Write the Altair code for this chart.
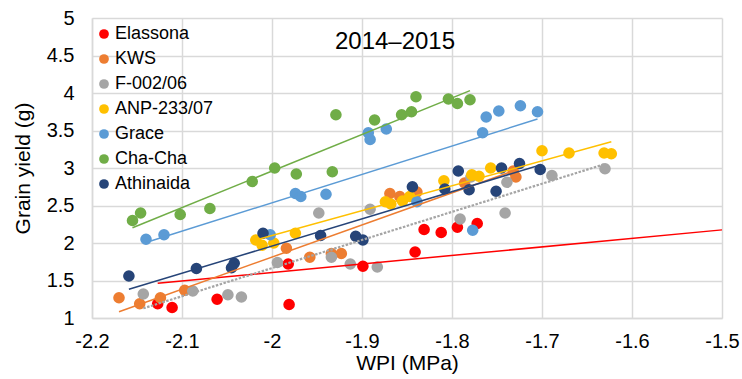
import altair as alt
import pandas as pd

# Leaf water potential index (MPa) vs grain yield (g) per variety, 2014–2015
varieties = ["Elassona", "KWS", "F-002/06", "ANP-233/07", "Grace", "Cha-Cha", "Athinaida"]
colors = ["#FF0000", "#ED7D31", "#A5A5A5", "#FFC000", "#5B9BD5", "#70AD47", "#264478"]

elassona_wpi = [-2.127, -2.111, -2.061, -1.981, -1.982, -1.899, -1.841, -1.831, -1.812, -1.794, -1.772]
elassona_yld = [1.19, 1.14, 1.25, 1.18, 1.72, 1.69, 1.88, 2.18, 2.14, 2.21, 2.26]

kws_wpi = [-2.170, -2.147, -2.124, -2.097, -1.984, -1.958, -1.934, -1.923, -1.869, -1.858, -1.839,
           -1.786, -1.732, -1.729]
kws_yld = [1.27, 1.19, 1.27, 1.37, 1.93, 1.81, 1.86, 1.86, 2.66, 2.62, 2.68, 2.80, 2.96, 2.88]

f002_wpi = [-2.143, -2.088, -2.049, -2.034, -1.994, -1.948, -1.934, -1.913, -1.883, -1.891, -1.791,
            -1.779, -1.739, -1.741, -1.689, -1.630]
f002_yld = [1.32, 1.36, 1.31, 1.28, 1.74, 2.40, 1.81, 1.72, 1.68, 2.45, 2.32, 2.88, 2.81, 2.40,
            2.90, 2.99]

anp_wpi = [-2.018, -2.011, -1.998, -1.974, -1.874, -1.868, -1.855, -1.847, -1.809, -1.778, -1.770,
           -1.757, -1.700, -1.670, -1.631, -1.623]
anp_yld = [2.04, 1.97, 2.00, 2.13, 2.55, 2.52, 2.56, 2.62, 2.83, 2.91, 2.89, 3.00, 3.23, 3.20,
           3.20, 3.19]

grace_wpi = [-2.140, -2.120, -2.002, -1.974, -1.968, -1.940, -1.893, -1.891, -1.873, -1.839, -1.777,
             -1.766, -1.762, -1.748, -1.724, -1.705]
grace_yld = [2.05, 2.11, 2.11, 2.66, 2.62, 2.65, 3.47, 3.38, 3.52, 2.55, 2.17, 3.47, 3.68, 3.76,
             3.83, 3.75]

chacha_wpi = [-2.155, -2.146, -2.102, -2.069, -2.022, -1.997, -1.973, -1.933, -1.929, -1.886, -1.856,
              -1.845, -1.840, -1.804, -1.794, -1.780]
chacha_yld = [2.30, 2.40, 2.38, 2.46, 2.82, 3.00, 2.92, 2.95, 3.71, 3.64, 3.71, 3.75, 3.95, 3.92,
              3.86, 3.91]

athin_wpi = [-2.159, -2.084, -2.042, -2.045, -2.010, -1.946, -1.907, -1.899, -1.844, -1.808, -1.793,
             -1.781, -1.751, -1.745, -1.725, -1.702]
athin_yld = [1.56, 1.66, 1.73, 1.67, 2.13, 2.10, 2.09, 2.04, 2.75, 2.72, 2.96, 2.71, 2.69, 3.00,
             3.06, 2.98]

# Linear trendline end points (start WPI, start yield, end WPI, end yield)
trend_x0 = [-2.127, -2.170, -2.143, -2.018, -2.140, -2.155, -2.159]
trend_y0 = [1.463, 1.084, 1.129, 2.040, 2.007, 2.204, 1.383]
trend_x1 = [-1.500, -1.729, -1.630, -1.623, -1.705, -1.780, -1.702]
trend_y1 = [2.175, 2.973, 3.053, 3.351, 3.653, 4.031, 3.040]

x_ticks = [-2.2, -2.1, -2.0, -1.9, -1.8, -1.7, -1.6, -1.5]
y_ticks = [1, 1.5, 2, 2.5, 3, 3.5, 4, 4.5, 5]
chart_title = "2014–2015"

series = [
    (elassona_wpi, elassona_yld), (kws_wpi, kws_yld), (f002_wpi, f002_yld), (anp_wpi, anp_yld),
    (grace_wpi, grace_yld), (chacha_wpi, chacha_yld), (athin_wpi, athin_yld),
]
rows = []
for name, (xs, ys) in zip(varieties, series):
    for xv, yv in zip(xs, ys):
        rows.append({"variety": name, "wpi": xv, "yield": yv})
points_df = pd.DataFrame(rows)

trend_rows = []
for i, name in enumerate(varieties):
    trend_rows.append({"variety": name, "wpi": trend_x0[i], "yield": trend_y0[i], "end": 0})
    trend_rows.append({"variety": name, "wpi": trend_x1[i], "yield": trend_y1[i], "end": 1})
trend_df = pd.DataFrame(trend_rows)

FONT = "Liberation Sans"
minus_fix = "datum.value < 0 ? '-' + format(-datum.value, '~g') : format(datum.value, '~g')"

x_axis = alt.Axis(values=x_ticks, labelExpr=minus_fix, title="WPI (MPa)")
y_axis = alt.Axis(values=y_ticks, labelExpr=minus_fix, title="Grain yield (g)")
x_scale = alt.Scale(domain=[-2.2, -1.5], nice=False, zero=False)
y_scale = alt.Scale(domain=[1, 5], nice=False, zero=False)


def x_enc():
    return alt.X("wpi:Q", scale=x_scale, axis=x_axis)


def y_enc():
    return alt.Y("yield:Q", scale=y_scale, axis=y_axis)


points = alt.Chart(points_df).mark_circle(size=135, opacity=1).encode(
    x=x_enc(),
    y=y_enc(),
    color=alt.Color(
        "variety:N",
        scale=alt.Scale(domain=varieties, range=colors),
        sort=varieties,
        legend=alt.Legend(title=None, symbolType="circle"),
    ),
)

stroke_scale = alt.Scale(domain=varieties, range=colors)

solid_lines = alt.Chart(trend_df).transform_filter(
    alt.datum.variety != "F-002/06"
).mark_line(strokeWidth=1.5).encode(
    x=x_enc(),
    y=y_enc(),
    detail="variety:N",
    order="end:Q",
    stroke=alt.Stroke("variety:N", scale=stroke_scale, legend=None),
)

dotted_line = alt.Chart(trend_df).transform_filter(
    alt.datum.variety == "F-002/06"
).mark_line(strokeWidth=2.2, strokeDash=[2.5, 1.5]).encode(
    x=x_enc(),
    y=y_enc(),
    order="end:Q",
    stroke=alt.Stroke("variety:N", scale=stroke_scale, legend=None),
)

title_text = alt.Chart(pd.DataFrame({"label": [chart_title]})).mark_text(
    font=FONT, fontSize=24, color="#000000", align="center", baseline="middle"
).encode(x=alt.value(303), y=alt.value(24), text="label:N")

chart = (
    alt.layer(points, solid_lines, dotted_line, title_text)
    .properties(
        width=630,
        height=300,
        autosize=alt.AutoSizeParams(type="none"),
        padding={"left": 92, "top": 18, "right": 20, "bottom": 61},
    )
    .configure_view(stroke=None)
    .configure_axis(
        grid=True,
        gridColor="#D9D9D9",
        gridWidth=1.5,
        domainColor="#D9D9D9",
        domainWidth=1.5,
        ticks=False,
        labelFlush=False,
        labelOverlap=False,
        labelFont=FONT,
        labelFontSize=20,
        labelColor="#000000",
        titleFont=FONT,
        titleFontSize=21,
        titleFontWeight="normal",
        titleColor="#000000",
    )
    .configure_axisX(labelPadding=13, titlePadding=1)
    .configure_axisY(labelPadding=18, titlePadding=13)
    .configure_legend(
        orient="none",
        legendX=3,
        legendY=7,
        symbolSize=95,
        symbolStrokeWidth=0,
        symbolOpacity=1,
        labelFont=FONT,
        labelFontSize=18,
        labelColor="#000000",
        labelOffset=2,
        rowPadding=7,
        padding=0,
    )
)

chart.save("out.html", embed_options={"renderer": "svg", "actions": False})
